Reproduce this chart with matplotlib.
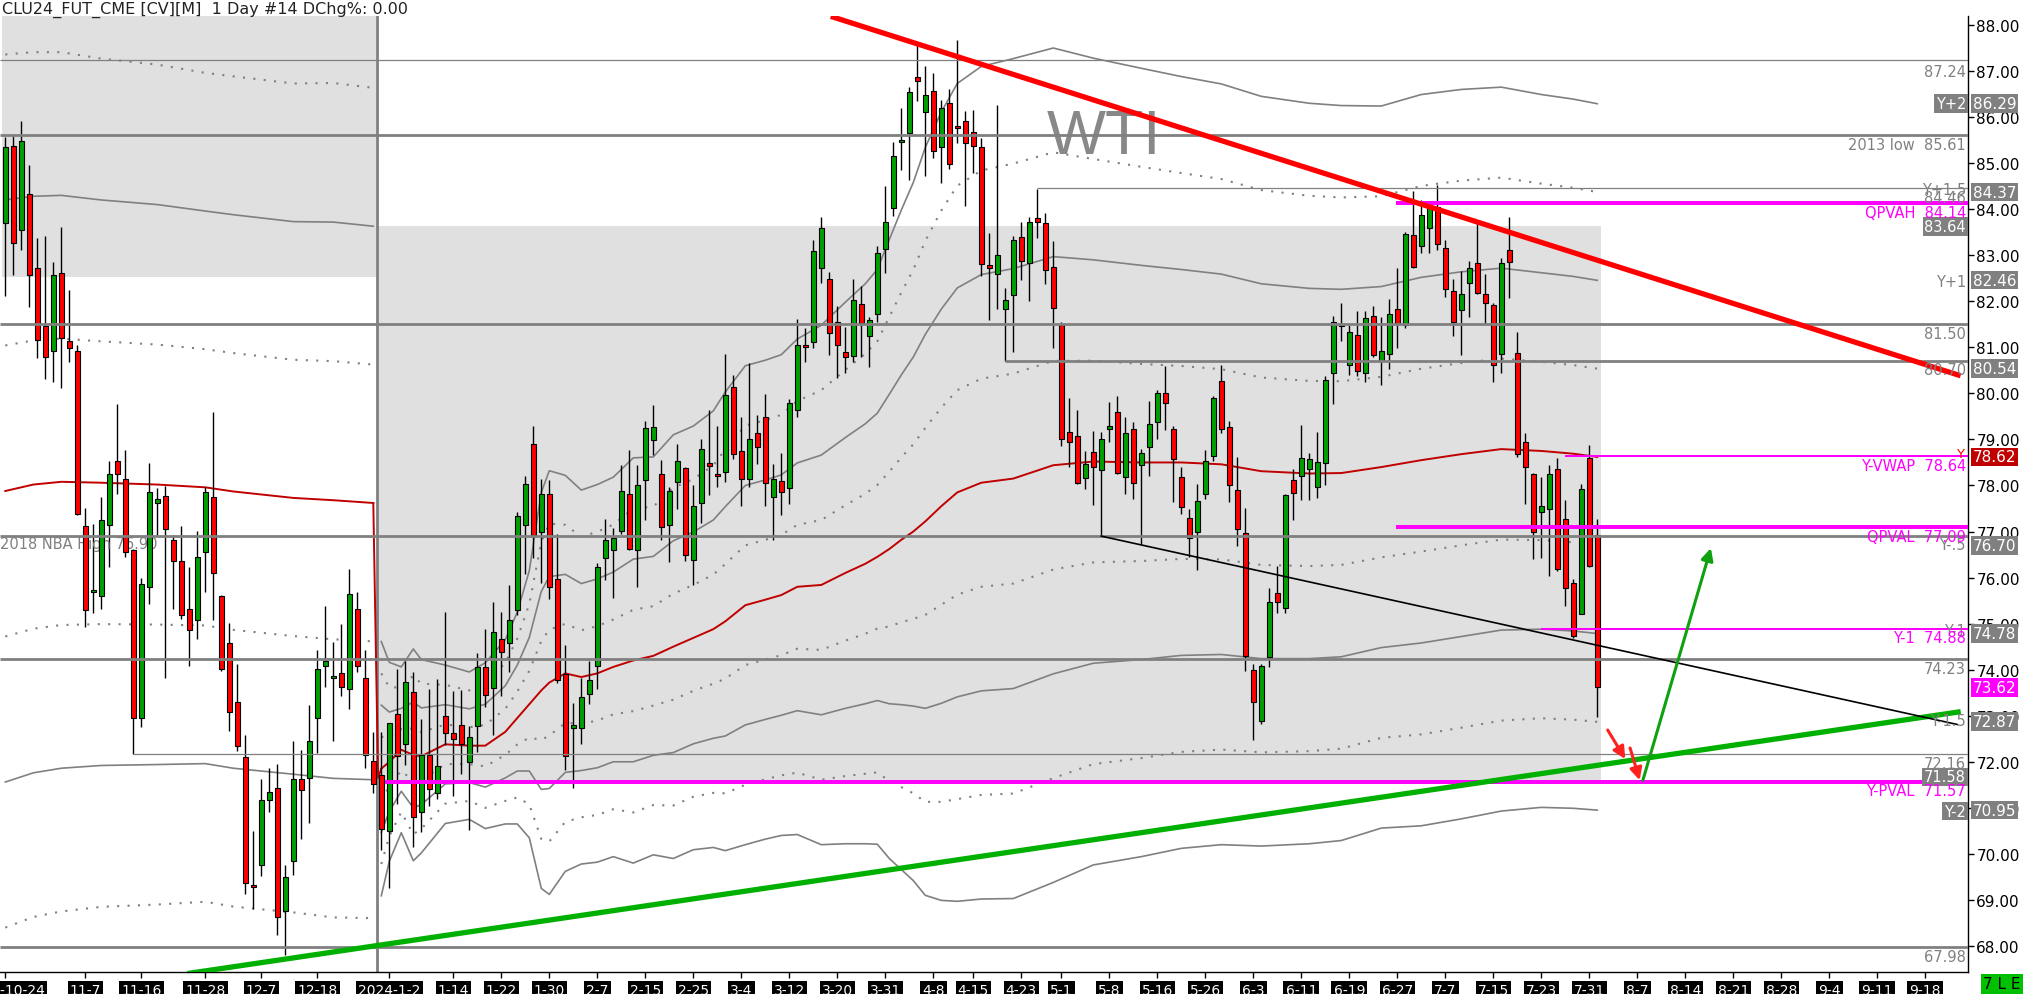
import numpy as np
import matplotlib
matplotlib.use('Agg')
import matplotlib.pyplot as plt
from matplotlib.patches import Rectangle

# daily OHLC, one value per bar (bar 0 = 2023-10-24)
opens = [83.69, 85.37, 83.54, 84.32, 82.73, 81.46, 80.92, 82.61, 81.14, 80.93,
         77.12, 75.69, 75.61, 77.14, 78.54, 78.15, 76.59, 72.96, 75.80, 77.63,
         77.77, 76.81, 76.36, 75.32, 75.08, 76.55, 77.74, 75.59, 74.57, 73.30,
         72.11, 69.30, 69.75, 71.16, 71.44, 68.75, 69.85, 71.62, 71.65, 72.94,
         74.07, 73.82, 73.92, 73.57, 75.32, 73.81, 72.01, 71.71, 70.50, 73.04,
         72.39, 73.51, 70.90, 72.14, 71.33, 73.00, 72.62, 72.80, 71.99, 72.77,
         74.06, 73.60, 74.67, 74.57, 75.29, 77.14, 78.89, 77.00, 77.82, 75.96,
         73.90, 72.74, 72.74, 73.48, 74.08, 76.43, 76.60, 77.02, 77.81, 76.60,
         78.11, 78.99, 78.24, 77.14, 78.08, 78.37, 76.39, 77.62, 78.48, 78.22,
         78.29, 80.13, 78.74, 78.15, 79.14, 79.49, 77.76, 78.09, 77.94, 79.64,
         81.05, 81.11, 82.73, 82.49, 81.54, 80.89, 80.81, 81.94, 81.25, 81.72,
         83.14, 84.03, 85.45, 85.65, 86.86, 86.11, 86.57, 85.35, 86.31, 85.80,
         85.92, 85.68, 85.36, 82.78, 82.60, 81.84, 82.13, 83.40, 82.84, 83.81,
         83.70, 82.75, 81.49, 79.16, 79.08, 78.17, 78.73, 78.33, 79.22, 79.60,
         78.19, 79.22, 78.44, 78.84, 79.38, 80.00, 79.22, 78.19, 77.29, 77.00,
         77.82, 78.64, 80.26, 79.28, 77.90, 76.96, 74.00, 72.89, 74.27, 75.66,
         75.35, 78.11, 78.21, 78.36, 77.97, 78.48, 80.45, 81.46, 80.61, 81.26,
         80.45, 81.69, 80.71, 80.85, 81.83, 81.48, 83.43, 83.20, 83.60, 84.04,
         83.15, 82.22, 81.81, 82.40, 82.84, 82.16, 81.92, 80.85, 83.11, 80.87,
         78.94, 78.26, 77.43, 77.50, 78.35, 77.28, 75.89, 75.22, 78.59, 76.93]
highs = [85.56, 85.58, 85.92, 84.96, 83.38, 83.42, 82.85, 83.62, 82.25, 81.04,
         77.52, 77.17, 77.74, 78.54, 79.77, 78.77, 76.63, 76.00, 78.48, 77.94,
         77.98, 76.93, 77.11, 76.24, 77.01, 77.96, 79.60, 75.62, 75.02, 74.13,
         72.58, 70.50, 71.63, 71.87, 71.95, 69.75, 72.46, 72.26, 73.24, 74.43,
         75.38, 74.61, 74.99, 76.19, 75.68, 74.43, 72.64, 72.64, 72.85, 74.01,
         74.18, 73.95, 72.93, 73.57, 73.80, 75.25, 73.53, 73.55, 72.77, 74.37,
         74.89, 75.47, 75.25, 75.84, 77.42, 78.21, 79.30, 78.15, 78.11, 76.95,
         74.53, 73.27, 73.82, 74.19, 76.32, 77.28, 77.08, 78.44, 78.76, 78.44,
         79.39, 79.75, 78.55, 77.96, 78.91, 78.40, 78.02, 79.01, 79.64, 79.30,
         80.85, 80.41, 79.49, 80.67, 79.53, 79.98, 78.46, 78.71, 79.88, 81.62,
         81.43, 83.32, 83.84, 82.64, 81.90, 81.45, 82.48, 82.33, 81.65, 83.21,
         84.51, 85.46, 86.19, 86.65, 87.61, 87.10, 86.96, 86.37, 86.62, 87.68,
         86.13, 86.15, 85.54, 83.48, 86.27, 82.29, 83.42, 83.72, 83.83, 84.44,
         83.92, 83.30, 81.56, 79.89, 79.63, 78.75, 79.19, 79.16, 79.81, 79.95,
         79.49, 79.38, 78.79, 79.84, 80.08, 80.60, 79.29, 78.41, 77.49, 78.03,
         78.77, 79.94, 80.61, 79.41, 78.61, 77.52, 74.12, 74.12, 75.78, 76.25,
         77.81, 78.35, 79.31, 78.70, 79.17, 80.37, 81.67, 81.96, 81.48, 81.79,
         81.78, 81.89, 81.65, 82.04, 82.72, 83.51, 84.40, 84.20, 84.08, 84.53,
         83.34, 82.49, 82.66, 82.87, 83.71, 82.60, 81.96, 82.93, 83.82, 81.33,
         79.13, 78.28, 78.19, 78.44, 78.60, 77.68, 75.98, 78.04, 78.88, 77.28]
lows = [82.11, 82.58, 83.12, 81.87, 80.77, 80.32, 80.24, 80.12, 80.68, 77.35,
        74.93, 75.23, 75.32, 76.24, 77.82, 76.45, 72.17, 72.76, 75.42, 76.93,
        73.83, 75.32, 75.11, 74.07, 74.67, 75.68, 75.08, 73.98, 72.67, 72.23,
        69.13, 68.80, 69.51, 70.92, 68.24, 67.80, 69.55, 70.32, 70.68, 72.19,
        73.62, 72.46, 73.42, 73.15, 73.95, 71.87, 71.33, 70.08, 69.25, 71.09,
        71.93, 70.14, 70.47, 71.04, 71.19, 72.36, 71.25, 71.73, 70.52, 72.22,
        73.19, 72.58, 73.43, 73.96, 75.18, 76.08, 76.42, 75.88, 75.53, 73.72,
        71.83, 71.42, 72.39, 73.26, 73.58, 75.94, 75.55, 76.95, 76.60, 75.79,
        77.24, 78.67, 76.81, 76.34, 77.50, 76.37, 75.84, 77.18, 77.79, 77.96,
        78.07, 78.57, 77.55, 77.96, 78.47, 77.55, 76.81, 77.36, 77.60, 79.49,
        80.68, 80.98, 82.40, 80.84, 80.33, 80.44, 80.68, 80.78, 80.57, 81.56,
        82.62, 83.86, 84.86, 84.64, 86.35, 84.71, 85.11, 84.56, 84.87, 85.43,
        84.06, 84.78, 82.55, 81.59, 81.83, 80.70, 80.89, 82.46, 82.00, 83.38,
        82.38, 80.98, 78.86, 78.41, 78.03, 77.92, 77.58, 76.90, 78.95, 78.26,
        77.81, 77.71, 76.73, 78.21, 79.02, 79.20, 77.65, 77.38, 76.44, 76.17,
        77.70, 78.53, 79.14, 77.64, 76.68, 73.98, 72.48, 72.82, 74.05, 75.24,
        75.24, 77.24, 77.68, 77.68, 77.73, 78.00, 79.77, 81.14, 80.39, 80.37,
        80.24, 80.78, 80.19, 80.52, 80.99, 81.41, 82.72, 83.05, 83.05, 83.11,
        82.10, 81.25, 80.83, 81.65, 82.16, 81.52, 80.24, 80.45, 82.07, 78.61,
        77.59, 76.41, 76.42, 76.04, 76.15, 75.38, 74.69, 75.20, 76.22, 72.98]
closes = [85.35, 83.26, 85.48, 82.58, 81.15, 80.80, 82.56, 81.21, 80.98, 77.38,
          75.29, 75.74, 77.26, 78.26, 78.24, 76.55, 72.94, 75.86, 77.85, 77.70,
          77.05, 76.36, 75.18, 74.87, 76.45, 77.85, 76.11, 74.01, 73.08, 72.35,
          69.37, 69.28, 71.18, 71.35, 68.63, 69.49, 71.62, 71.39, 72.46, 74.01,
          74.19, 73.87, 73.63, 75.65, 74.09, 72.14, 71.51, 70.53, 72.85, 72.13,
          73.73, 70.81, 72.14, 71.40, 71.90, 72.62, 72.49, 72.39, 72.54, 74.06,
          73.46, 74.81, 74.38, 75.07, 77.34, 78.03, 76.92, 77.82, 75.79, 73.77,
          72.12, 72.80, 73.40, 73.77, 76.24, 76.81, 76.85, 77.87, 76.63, 78.01,
          79.24, 79.28, 77.09, 77.87, 78.54, 76.50, 77.55, 78.80, 78.42, 78.21,
          79.97, 78.69, 78.15, 79.02, 78.83, 78.06, 78.13, 77.86, 79.80, 81.06,
          81.00, 83.09, 83.60, 81.32, 81.05, 80.78, 82.03, 81.52, 81.59, 83.05,
          83.73, 85.16, 85.47, 86.54, 86.79, 86.49, 85.27, 86.19, 84.99, 85.76,
          85.43, 85.38, 82.80, 82.73, 83.00, 82.02, 83.34, 82.87, 83.72, 83.72,
          82.67, 81.86, 79.02, 78.95, 78.05, 78.46, 78.41, 79.00, 79.29, 78.28,
          79.13, 78.05, 78.70, 79.33, 80.00, 79.79, 78.57, 77.54, 76.86, 77.67,
          78.53, 79.90, 79.23, 78.00, 77.06, 74.29, 73.29, 74.07, 75.48, 75.48,
          77.79, 77.83, 78.59, 78.57, 78.50, 80.28, 81.56, 81.48, 81.33, 80.48,
          81.63, 80.83, 80.92, 81.72, 81.50, 83.46, 82.74, 83.87, 84.07, 83.24,
          82.27, 81.54, 82.16, 82.72, 82.18, 81.96, 80.61, 82.84, 82.85, 78.68,
          78.41, 76.99, 77.55, 78.26, 76.18, 75.78, 74.73, 77.92, 76.25, 73.62]

# x axis labels
tick_bars = [0, 10, 17, 25, 32, 39, 48, 56, 62, 68, 74, 80, 86, 92, 98, 104, 110, 116,
             121, 127, 132, 138, 144, 150, 156, 162, 168, 174, 180, 186, 192, 198, 204,
             210, 216, 222, 228, 234, 240]
tick_labels = ['2023-10-24', '11-7', '11-16', '11-28', '12-7', '12-18', '2024-1-2', '1-14',
               '1-22', '1-30', '2-7', '2-15', '2-25', '3-4', '3-12', '3-20', '3-31', '4-8',
               '4-15', '4-23', '5-1', '5-8', '5-16', '5-26', '6-3', '6-11', '6-19', '6-27',
               '7-7', '7-15', '7-23', '7-31', '8-7', '8-14', '8-21', '8-28', '9-4', '9-11',
               '9-18']

# anchored VWAP + std dev, 2023 segment
bars23 = [0, 3.5, 7, 12, 19, 25, 28.5, 36, 41, 46]
vwap23 = [77.88, 78.02, 78.08, 78.06, 78.02, 77.96, 77.87, 77.73, 77.68, 77.62]
sig23 = [6.32, 6.26, 6.22, 6.14, 6.08, 6.00, 6.01, 6.00, 6.04, 6.01]

# anchored VWAP + std dev, 2024 segment
bars24 = [47, 48, 49.5, 51, 52, 55, 58, 60, 62.5, 64, 65.5, 67, 68, 70, 72, 74, 76, 78.5,
          81, 83.5, 86, 88.5, 90, 92.5, 95, 97, 99, 102, 105, 107.5, 109, 110.5, 112,
          113.5, 115, 117, 119, 122, 126, 131, 136, 142, 147, 152, 157, 163, 167, 172,
          177, 182, 187, 192, 196, 199]
vwap24 = [71.85, 72.00, 72.26, 72.15, 72.12, 72.38, 72.35, 72.35, 72.65, 72.95, 73.25,
          73.55, 73.72, 73.92, 73.84, 73.92, 74.06, 74.20, 74.30, 74.50, 74.69, 74.88,
          75.05, 75.40, 75.52, 75.62, 75.80, 75.84, 76.10, 76.30, 76.45, 76.62, 76.82,
          77.00, 77.22, 77.55, 77.85, 78.06, 78.15, 78.44, 78.52, 78.50, 78.50, 78.46,
          78.31, 78.26, 78.27, 78.40, 78.55, 78.68, 78.79, 78.75, 78.69, 78.62]
sig24 = [1.38, 1.08, 0.90, 1.15, 1.05, 0.86, 0.80, 0.90, 1.00, 1.15, 1.45, 2.15, 2.30,
         2.15, 2.03, 2.05, 2.06, 2.20, 2.16, 2.30, 2.30, 2.37, 2.49, 2.60, 2.60, 2.61,
         2.69, 2.82, 2.94, 3.04, 3.12, 3.36, 3.58, 3.79, 4.06, 4.28, 4.44, 4.52, 4.56,
         4.53, 4.38, 4.28, 4.19, 4.13, 4.07, 4.02, 3.99, 3.92, 3.97, 3.96, 3.93, 3.87,
         3.85, 3.835]
# VWAP reset at the year change
vwap_join_bars = [46, 46.6, 47]
vwap_join = [77.62, 71.65, 71.85]

# horizontal levels: (price, first bar, thick?)
gray_levels = [(87.24, -1, False), (85.61, -1, True), (84.46, 129, False), (81.50, -1, True),
               (80.70, 125, True), (76.90, -1, True), (74.23, -1, True), (72.16, 16, False),
               (67.98, -1, True)]
magenta_levels = [(84.14, 173.8, 4), (77.09, 173.8, 4), (71.57, 47.5, 4), (78.64, 195, 2),
                  (74.88, 192, 2)]

# trendlines (bar, price) pairs
red_trend = [(103.5, 88.17), (244.1, 80.40)]
green_trend = [(23.1, 67.41), (244.1, 73.08)]
black_trend = [(137, 76.90), (244, 72.81)]

GRAY = '#808080'
MAG = '#FF00FF'

fig = plt.figure(figsize=(20.25, 9.95), dpi=100)
ax = fig.add_axes([0, 22 / 995, 1968 / 2025, 956 / 995])
xmin, xmax = -0.6625, 245.34
ax.set_xlim(xmin, xmax)
ax.set_ylim(67.435, 88.195)

# shaded value-area boxes
ax.add_patch(Rectangle((-0.4, 82.52), 46.8, 6.0, facecolor='#E0E0E0', edgecolor='none', zorder=0))
ax.add_patch(Rectangle((46.6, 71.58), 152.9, 83.64 - 71.58, facecolor='#E0E0E0',
                       edgecolor='none', zorder=0))

# std dev bands
b23 = np.array(bars23)
v23 = np.array(vwap23)
s23 = np.array(sig23)
for k in [0.5, 1, 1.5]:
    ls = '-' if k == 1 else (0, (1, 4))
    lw = 1.2 if k == 1 else 1.5
    for sgn in [1, -1]:
        ax.plot(b23, v23 + sgn * k * s23, color=GRAY, lw=lw, ls=ls, zorder=1)
ax.plot(b23, v23, color='#C00000', lw=1.4, zorder=1.5)
ax.plot(vwap_join_bars, vwap_join, color='#C00000', lw=1.4, zorder=1.5)

b24 = np.array(bars24)
v24 = np.array(vwap24)
s24 = np.array(sig24)
for k in [0.5, 1, 1.5, 2]:
    ls = '-' if k in (1, 2) else (0, (1, 4))
    lw = 1.2 if k in (1, 2) else 1.5
    for sgn in [1, -1]:
        ax.plot(b24, v24 + sgn * k * s24, color=GRAY, lw=lw, ls=ls, zorder=1)
ax.plot(b24, v24, color='#C00000', lw=1.4, zorder=1.5)

# year separator
ax.axvline(46.5, color=GRAY, lw=2, zorder=1.2)

# candles
o = np.array(opens)
h = np.array(highs)
l = np.array(lows)
c = np.array(closes)
x = np.arange(len(o))
up = c >= o
cols = np.where(up, '#00A000', '#FF0000')
body = np.maximum(np.abs(c - o), 0.05)
ax.vlines(x, l, h, color='black', lw=1, zorder=3)
ax.bar(x, body, bottom=np.minimum(o, c), width=0.62, color=cols, edgecolor='black',
       linewidth=0.8, zorder=4)

# horizontal gray levels
for price, start, thick in gray_levels:
    ax.plot([max(start, xmin), xmax], [price, price], color=GRAY,
            lw=2.0 if thick else 0.9, zorder=5, solid_capstyle='butt')

for price, start, w in magenta_levels:
    ax.plot([start, xmax], [price, price], color=MAG, lw=w * 0.72, zorder=6,
            solid_capstyle='butt')

# trendlines
ax.plot(*zip(*red_trend), color='#FF0000', lw=3.8, zorder=7)
ax.plot(*zip(*green_trend), color='#00B000', lw=3.8, zorder=7)
ax.plot(*zip(*black_trend), color='black', lw=1.2, zorder=7)

# arrows
arw = dict(arrowstyle='-|>', lw=2.2, mutation_scale=18, shrinkA=0, shrinkB=0)
ax.annotate('', xy=(202.5, 72.06), xytext=(200.3, 72.69), zorder=8,
            arrowprops=dict(color='#FF2020', **arw))
ax.annotate('', xy=(204.3, 71.60), xytext=(203.1, 72.30), zorder=8,
            arrowprops=dict(color='#FF2020', **arw))
ax.annotate('', xy=(213.2, 76.64), xytext=(204.7, 71.60), zorder=8,
            arrowprops=dict(color='#10A010', **arw))

ax.text(137.3, 85.57, 'WTI', fontsize=45, color='#888888', ha='center', va='center',
        family='Liberation Sans', zorder=2)
ax.text(-0.6, 76.73, '2018 NBA High 76.90', fontsize=10.5, color=GRAY, ha='left',
        va='center', zorder=3.5)

# labels at right edge inside the plot
yt = ax.get_yaxis_transform()
xr = 1966 / 1968
plain = [('87.24', 87.00, GRAY), ('2013 low  85.61', 85.40, GRAY), ('Y+1.5', 84.42, GRAY),
         ('84.46', 84.25, GRAY), ('Y+1', 82.44, GRAY), ('81.50', 81.31, GRAY),
         ('80.70', 80.51, GRAY), ('Y-.5', 76.71, GRAY), ('Y-1', 74.84, GRAY),
         ('74.23', 74.02, GRAY), ('Y-1.5', 72.89, GRAY), ('72.16', 71.97, GRAY),
         ('67.98', 67.78, GRAY)]
boxed = [('Y+2', 86.29), ('83.64', 83.62), ('71.58', 71.67), ('Y-2', 70.93)]
mag_lbl = [('QPVAH  84.14', 83.93), ('Y-VWAP  78.64', 78.43), ('QPVAL  77.09', 76.90),
           ('Y-1  74.88', 74.69), ('Y-PVAL  71.57', 71.37)]
for txt, yv, col in plain:
    ax.text(xr, yv, txt, transform=yt, ha='right', va='center', fontsize=10.5, color=col,
            zorder=8)
for txt, yv in boxed:
    ax.text(xr, yv, txt, transform=yt, ha='right', va='center', fontsize=10.5, color='white',
            zorder=8, bbox=dict(boxstyle='square,pad=0.12', fc=GRAY, ec='none'))
for txt, yv in mag_lbl:
    ax.text(xr, yv, txt, transform=yt, ha='right', va='center', fontsize=10.5, color=MAG,
            zorder=9)
ax.text(1964 / 1968, 78.70, 'Y', transform=yt, ha='right', va='center', fontsize=9.5,
        color='#FF0000', zorder=9)

# axis price boxes
axis_boxes = [('86.29', GRAY), ('84.37', GRAY), ('82.46', GRAY), ('80.54', GRAY),
              ('78.62', '#C00000'), ('76.70', GRAY), ('74.78', GRAY), ('73.62', MAG),
              ('72.87', GRAY), ('70.95', GRAY)]
for txt, col in axis_boxes:
    ax.text(1973 / 1968, float(txt), txt, transform=yt, ha='left', va='center', fontsize=11,
            color='white', clip_on=False, zorder=10,
            bbox=dict(boxstyle='square,pad=0.12', fc=col, ec='none'))

# axes styling
ax.yaxis.tick_right()
ax.set_yticks(np.arange(68, 89, 1))
ax.yaxis.set_major_formatter(matplotlib.ticker.FormatStrFormatter('%.2f'))
ax.tick_params(axis='y', length=4, width=1, pad=2, labelsize=11, colors='black')
ax.set_xticks(tick_bars)
ax.set_xticklabels(tick_labels)
ax.tick_params(axis='x', length=4, width=1, pad=4, labelsize=10, labelcolor='white')
for t in ax.get_xticklabels():
    t.set_bbox(dict(boxstyle='square,pad=0.15', fc='black', ec='none'))
for s in ['left', 'top']:
    ax.spines[s].set_visible(False)
for s in ['right', 'bottom']:
    ax.spines[s].set_color('black')
    ax.spines[s].set_linewidth(1)

fig.text(2 / 2025, 1 - 2 / 995, 'CLU24_FUT_CME [CV][M]  1 Day #14 DChg%: 0.00', ha='left',
         va='top', fontsize=11.5, color='#222222')
fig.text(2002 / 2025, 10 / 995, '7 L E', ha='center', va='center', fontsize=11,
         color='black', bbox=dict(boxstyle='square,pad=0.15', fc='#00C000', ec='none'))

fig.savefig('out.png', dpi=100)
